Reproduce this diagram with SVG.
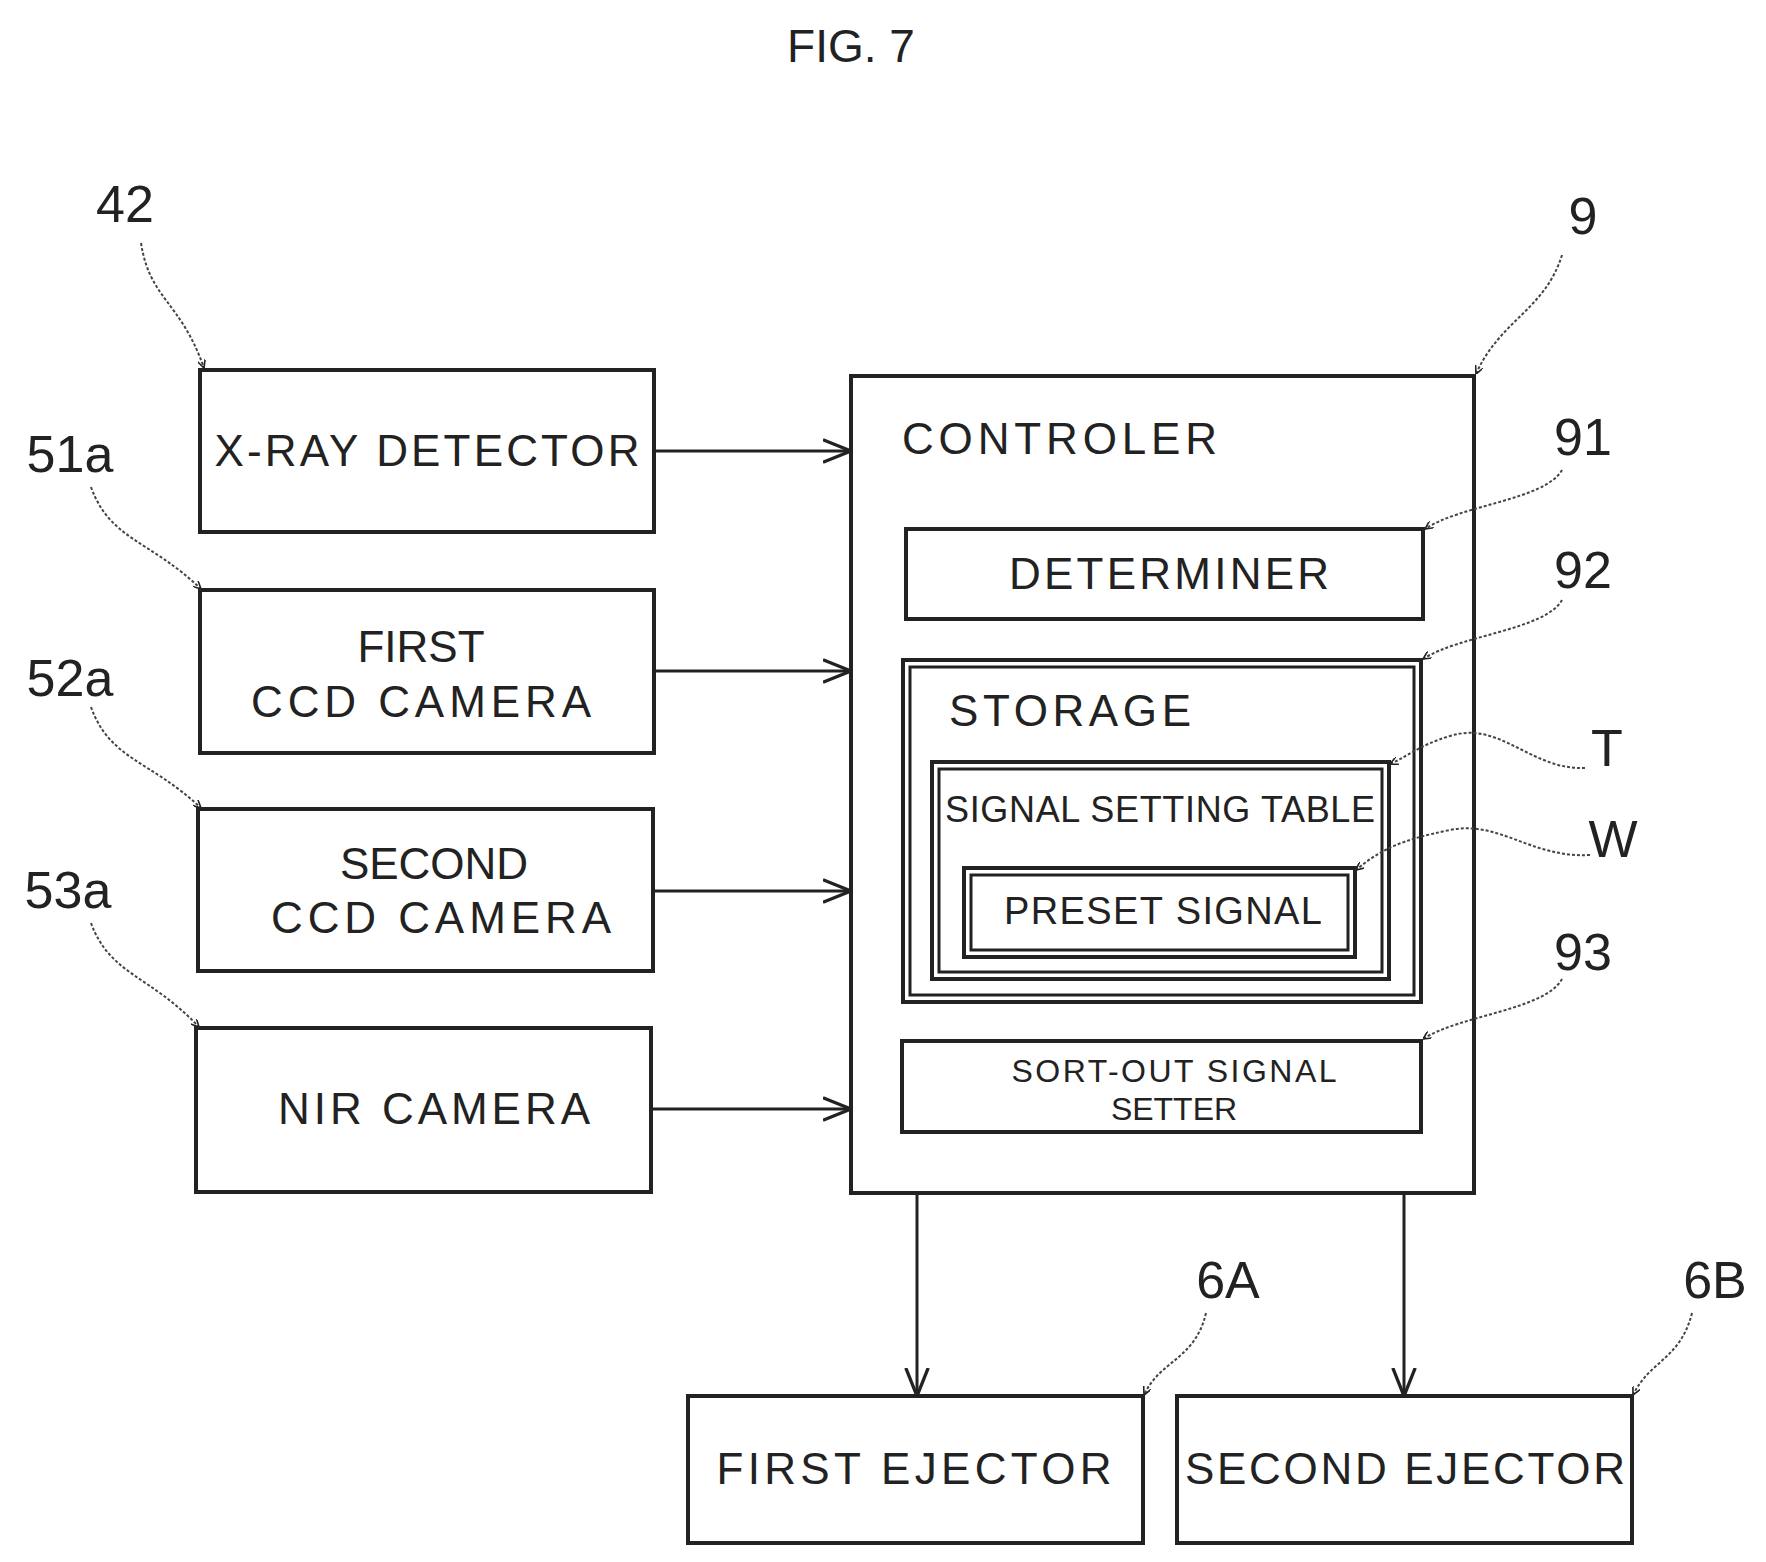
<svg xmlns="http://www.w3.org/2000/svg" width="1766" height="1562" viewBox="0 0 1766 1562">
<defs>
<style>
.b{fill:none;stroke:#222;stroke-width:4}
.t{font-family:"Liberation Sans",Arial,sans-serif;font-size:44px;fill:#222;text-anchor:middle}
.l{font-family:"Liberation Sans",Arial,sans-serif;font-size:52px;fill:#222;text-anchor:middle}
.c{fill:none;stroke:#222;stroke-width:3}
.d{fill:none;stroke:#444;stroke-width:2;stroke-dasharray:3 2}
</style>
<marker id="a" viewBox="0 0 10 10" refX="10" refY="5" markerWidth="8" markerHeight="8" orient="auto" markerUnits="userSpaceOnUse"><path d="M0,0L10,5L0,10" fill="none" stroke="#222" stroke-width="2"/></marker>
<marker id="m" viewBox="0 0 10 10" refX="10" refY="5" markerWidth="28" markerHeight="28" orient="auto" markerUnits="userSpaceOnUse"><path d="M0,1L10,5L0,9" fill="none" stroke="#222" stroke-width="1.2"/></marker>
</defs>
<rect width="1766" height="1562" fill="#fff"/>
<text class="l" x="851" y="62" style="font-size:46px">FIG. 7</text>
<g id="xray"><rect class="b" x="200" y="370" width="454" height="162"/><text class="t" x="427" y="466" textLength="425">X-RAY DETECTOR</text></g>
<g id="ccd1"><rect class="b" x="200" y="590" width="454" height="163"/><text class="t" x="421" y="662">FIRST</text><text class="t" x="421" y="717" textLength="340">CCD CAMERA</text></g>
<g id="ccd2"><rect class="b" x="198" y="809" width="455" height="162"/><text class="t" x="434" y="879">SECOND</text><text class="t" x="441" y="933" textLength="340">CCD CAMERA</text></g>
<g id="nir"><rect class="b" x="196" y="1028" width="455" height="164"/><text class="t" x="434" y="1124" textLength="312">NIR CAMERA</text></g>
<g id="controller"><rect class="b" x="851" y="376" width="623" height="817"/><text class="t" x="902" y="454" style="text-anchor:start" textLength="315">CONTROLER</text></g>
<g id="determiner"><rect class="b" x="906" y="529" width="517" height="90"/><text class="t" x="1169" y="589" textLength="320">DETERMINER</text></g>
<g id="storage"><rect class="b" x="903" y="660" width="518" height="342"/><rect class="c" x="910" y="667" width="504" height="328"/><text class="t" x="949" y="726" style="text-anchor:start" textLength="242">STORAGE</text></g>
<g id="table"><rect class="b" x="932" y="762" width="457" height="217"/><rect class="c" x="939" y="769" width="443" height="203"/><text class="t" x="1160" y="822" style="font-size:36px" textLength="430">SIGNAL SETTING TABLE</text></g>
<g id="preset"><rect class="b" x="964" y="868" width="391" height="89"/><rect class="c" x="971" y="875" width="377" height="75"/><text class="t" x="1163" y="924" style="font-size:38px" textLength="318">PRESET SIGNAL</text></g>
<g id="sortout"><rect class="b" x="902" y="1041" width="519" height="91"/><text class="t" x="1174" y="1082" style="font-size:32px" textLength="325">SORT-OUT SIGNAL</text><text class="t" x="1174" y="1120" style="font-size:32px">SETTER</text></g>
<g id="eject1"><rect class="b" x="688" y="1396" width="455" height="147"/><text class="t" x="914" y="1484" textLength="395">FIRST  EJECTOR</text></g>
<g id="eject2"><rect class="b" x="1177" y="1396" width="455" height="147"/><text class="t" x="1405" y="1484" textLength="440">SECOND  EJECTOR</text></g>
<g id="connectors">
<line class="c" x1="654" y1="451" x2="851" y2="451" marker-end="url(#m)"/>
<line class="c" x1="654" y1="671" x2="851" y2="671" marker-end="url(#m)"/>
<line class="c" x1="653" y1="891" x2="851" y2="891" marker-end="url(#m)"/>
<line class="c" x1="651" y1="1109" x2="851" y2="1109" marker-end="url(#m)"/>
<line class="c" x1="917" y1="1193" x2="917" y2="1396" marker-end="url(#m)"/>
<line class="c" x1="1404" y1="1193" x2="1404" y2="1396" marker-end="url(#m)"/>
</g>
<g id="labels">
<text class="l" x="125" y="222">42</text>
<text class="l" x="70" y="472">51a</text>
<text class="l" x="70" y="696">52a</text>
<text class="l" x="68" y="908">53a</text>
<text class="l" x="1583" y="234">9</text>
<text class="l" x="1583" y="455">91</text>
<text class="l" x="1583" y="588">92</text>
<text class="l" x="1607" y="766">T</text>
<text class="l" x="1613" y="857">W</text>
<text class="l" x="1583" y="970">93</text>
<text class="l" x="1228" y="1298">6A</text>
<text class="l" x="1715" y="1298">6B</text>
<path class="d" d="M141,243 C150,300 180,300 204,368" marker-end="url(#a)"/>
<path class="d" d="M91,487 C110,540 150,540 201,589" marker-end="url(#a)"/>
<path class="d" d="M91,707 C110,760 150,760 201,808" marker-end="url(#a)"/>
<path class="d" d="M91,923 C110,975 150,975 199,1027" marker-end="url(#a)"/>
<path class="d" d="M1562,255 C1545,310 1500,320 1476,374" marker-end="url(#a)"/>
<path class="d" d="M1562,470 C1545,500 1460,505 1425,529" marker-end="url(#a)"/>
<path class="d" d="M1562,600 C1545,630 1460,635 1423,659" marker-end="url(#a)"/>
<path class="d" d="M1585,768 C1530,770 1500,720 1450,736 C1420,745 1410,755 1390,764" marker-end="url(#a)"/>
<path class="d" d="M1590,855 C1530,858 1500,820 1450,830 C1400,840 1380,850 1356,870" marker-end="url(#a)"/>
<path class="d" d="M1562,979 C1545,1010 1460,1015 1423,1039" marker-end="url(#a)"/>
<path class="d" d="M1206,1313 C1195,1360 1160,1360 1144,1395" marker-end="url(#a)"/>
<path class="d" d="M1692,1313 C1680,1360 1650,1360 1633,1395" marker-end="url(#a)"/>
</g>
</svg>
